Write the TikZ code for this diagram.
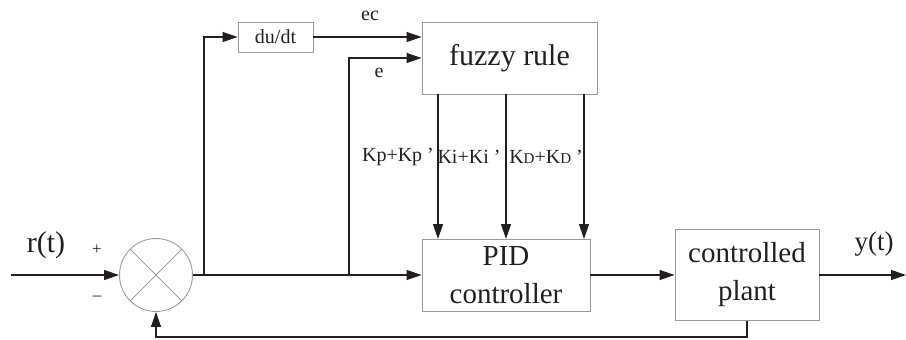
\documentclass[tikz,border=0pt]{standalone}
\usepackage{fontspec}
\setmainfont{Liberation Serif}
\usetikzlibrary{arrows.meta}
\definecolor{ink}{HTML}{231F20}
\definecolor{frame}{HTML}{9A9A9A}
\tikzset{
  blk/.style={draw=frame, line width=0.9pt, inner sep=0pt, align=center, text=ink},
  arr/.style={draw=ink, line width=1.3pt, -{Triangle[length=15pt,width=10pt]}},
  wire/.style={draw=ink, line width=1.3pt},
  lbl/.style={text=ink, inner sep=0pt}
}
\newcommand{\kterm}[1]{K{\fontsize{15}{15}\selectfont #1}}
\begin{document}
\begin{tikzpicture}[x=1pt,y=-1pt]
\useasboundingbox (0,0) rectangle (906,340);
% blocks
\node[blk, circle, minimum size=73pt] (sum) at (156,275) {};
\draw[frame, line width=0.9pt] (sum.north west) -- (sum.south east);
\draw[frame, line width=0.9pt] (sum.north east) -- (sum.south west);
\node[blk, minimum width=75pt, minimum height=30pt, font=\fontsize{20}{20}\selectfont] (dudt) at (275.5,37) {du/dt};
\node[blk, minimum width=175pt, minimum height=72pt, font=\fontsize{30}{30}\selectfont] (fuzzy) at (509.5,58) {fuzzy rule};
\node[blk, minimum width=168pt, minimum height=72pt, font=\fontsize{29}{38}\selectfont] (pid) at (506,275) {PID\\controller};
\node[blk, minimum width=144pt, minimum height=91pt, font=\fontsize{29}{38}\selectfont] (plant) at (747,275) {controlled\\plant};
% auxiliary points
\coordinate (in) at (11,275);
\coordinate (out) at (906,275);
\coordinate (b1) at (204,275);
\coordinate (b2) at (349,275);
\coordinate (fb) at (156,337);
\coordinate (k1) at (438,239);
\coordinate (k2) at (506,239);
\coordinate (k3) at (584,239);
% connectors
\draw[arr] (in) -- (sum.west);
\draw[arr] (sum.east) -- (pid.west);
\draw[arr] (b1) |- (dudt.west);
\draw[arr] (dudt.east) -- (dudt.east -| fuzzy.west);
\draw[arr] (b2) |- (fuzzy.west);
\draw[arr] (fuzzy.south -| k1) -- (k1);
\draw[arr] (fuzzy.south -| k2) -- (k2);
\draw[arr] (fuzzy.south -| k3) -- (k3);
\draw[arr] (pid.east) -- (plant.west);
\draw[arr] (plant.east) -- (out);
\draw[arr] (plant.south) |- (fb) -- (sum.south);
% labels
\node[lbl, font=\fontsize{30}{30}\selectfont] (rt) at (46,245) {r(t)};
\node[lbl, font=\fontsize{27}{27}\selectfont] (yt) at (874,244) {y(t)};
\node[lbl, font=\fontsize{17}{17}\selectfont] (plus) at (97,250) {+};
\node[lbl, font=\fontsize{17}{17}\selectfont] (minus) at (97,298) {–};
\node[lbl, font=\fontsize{20}{20}\selectfont] (ec) at (370,16) {ec};
\node[lbl, font=\fontsize{20}{20}\selectfont] (e) at (379,73) {e};
\node[lbl, font=\fontsize{20}{20}\selectfont] (kp) at (398,157) {Kp+Kp ’};
\node[lbl, font=\fontsize{20}{20}\selectfont] (ki) at (469,157) {Ki+Ki ’};
\node[lbl, font=\fontsize{20}{20}\selectfont] (kd) at (546,157) {\kterm{D}+\kterm{D} ’};
\end{tikzpicture}
\end{document}
